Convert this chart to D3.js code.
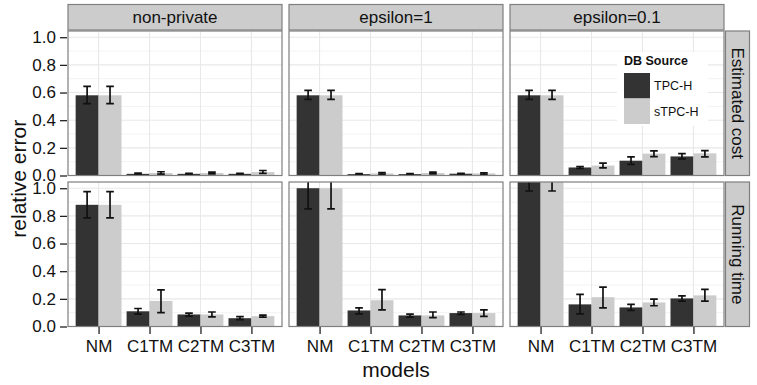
<!DOCTYPE html>
<html>
<head>
<meta charset="utf-8">
<script src="https://cdn.jsdelivr.net/npm/d3@7"></script>
<style>
  body { margin: 0; background: #fff; }
  text { font-family: "Liberation Sans", Arial, Helvetica, sans-serif; fill: #111; }
</style>
</head>
<body>
<div id="app"></div>
<script>
const models = ['NM', 'C1TM', 'C2TM', 'C3TM'];
const settings = ['non-private', 'epsilon=1', 'epsilon=0.1'];
const metrics = ['Estimated cost', 'Running time'];
const sources = ['TPC-H', 'sTPC-H'];
const yTicks = [0, 0.2, 0.4, 0.6, 0.8, 1.0];

// [setting][source][model]
const costMean = [
  [[0.58, 0.012, 0.012, 0.012], [0.58, 0.018, 0.018, 0.025]],
  [[0.58, 0.010, 0.010, 0.013], [0.58, 0.015, 0.018, 0.015]],
  [[0.58, 0.058, 0.107, 0.138], [0.58, 0.072, 0.158, 0.160]]
];
const costLow = [
  [[0.52, 0.008, 0.008, 0.008], [0.52, 0.010, 0.012, 0.015]],
  [[0.55, 0.007, 0.007, 0.010], [0.55, 0.010, 0.012, 0.010]],
  [[0.55, 0.052, 0.080, 0.120], [0.55, 0.055, 0.136, 0.135]]
];
const costHigh = [
  [[0.645, 0.017, 0.016, 0.016], [0.645, 0.027, 0.024, 0.036]],
  [[0.615, 0.013, 0.013, 0.016], [0.615, 0.021, 0.025, 0.020]],
  [[0.615, 0.065, 0.135, 0.158], [0.615, 0.090, 0.178, 0.180]]
];
const timeMean = [
  [[0.88, 0.110, 0.087, 0.060], [0.88, 0.185, 0.087, 0.075]],
  [[1.00, 0.116, 0.080, 0.097], [1.00, 0.190, 0.080, 0.097]],
  [[1.12, 0.160, 0.138, 0.203], [1.12, 0.212, 0.174, 0.225]]
];
const timeLow = [
  [[0.785, 0.090, 0.075, 0.050], [0.785, 0.100, 0.070, 0.068]],
  [[0.85, 0.092, 0.068, 0.088], [0.85, 0.120, 0.064, 0.073]],
  [[0.98, 0.092, 0.116, 0.184], [0.98, 0.135, 0.150, 0.184]]
];
const timeHigh = [
  [[0.975, 0.130, 0.097, 0.072], [0.975, 0.265, 0.105, 0.082]],
  [[1.15, 0.135, 0.090, 0.105], [1.15, 0.266, 0.105, 0.120]],
  [[1.26, 0.232, 0.160, 0.222], [1.26, 0.285, 0.198, 0.268]]
];

const WIDTH = 757, HEIGHT = 385;
const fills = ['#333333', '#cccccc'];

const svg = d3.select('#app').append('svg')
  .attr('width', WIDTH)
  .attr('height', HEIGHT);

const panelLeft = 68, panelW = 214, colGap = 7;
const rowTop = [31, 182], panelH = 144.5;

const fill = d3.scaleOrdinal().domain(sources).range(fills);

const rows = [
  { mean: costMean, low: costLow, high: costHigh },
  { mean: timeMean, low: timeLow, high: timeHigh }
];

rows.forEach((row, r) => {
  const y = d3.scaleLinear().domain([0, 1.045]).range([rowTop[r] + panelH, rowTop[r]]);

  settings.forEach((setting, c) => {
    const x0 = panelLeft + c * (panelW + colGap);
    const x = d3.scalePoint().domain(models).range([x0, x0 + panelW]).padding(0.6);
    const step = x.step();
    const g = svg.append('g');

    const clipId = `clip-${r}-${c}`;
    svg.append('clipPath').attr('id', clipId)
      .append('rect')
        .attr('x', x0).attr('y', rowTop[r])
        .attr('width', panelW).attr('height', panelH);

    g.append('rect')
      .attr('x', x0).attr('y', rowTop[r])
      .attr('width', panelW).attr('height', panelH)
      .attr('fill', '#fff');

    // minor grid
    g.selectAll('.minor')
      .data([0.1, 0.3, 0.5, 0.7, 0.9])
      .enter().append('line')
        .attr('x1', x0).attr('x2', x0 + panelW)
        .attr('y1', d => y(d)).attr('y2', d => y(d))
        .attr('stroke', '#f3f3f3').attr('stroke-width', 1);
    // major grid
    g.selectAll('.majorY')
      .data(yTicks)
      .enter().append('line')
        .attr('x1', x0).attr('x2', x0 + panelW)
        .attr('y1', d => y(d)).attr('y2', d => y(d))
        .attr('stroke', '#e8e8e8').attr('stroke-width', 1.1);
    g.selectAll('.majorX')
      .data(models)
      .enter().append('line')
        .attr('x1', d => x(d)).attr('x2', d => x(d))
        .attr('y1', rowTop[r]).attr('y2', rowTop[r] + panelH)
        .attr('stroke', '#e8e8e8').attr('stroke-width', 1.1);

    const bars = [];
    sources.forEach((s, si) => {
      models.forEach((m, mi) => {
        bars.push({
          source: s, model: m, si,
          v: row.mean[c][si][mi], lo: row.low[c][si][mi], hi: row.high[c][si][mi]
        });
      });
    });

    const marks = g.append('g').attr('clip-path', `url(#${clipId})`);
    const bw = step * 0.45;
    const cx = d => x(d.model) + (d.si === 0 ? -bw / 2 : bw / 2);

    marks.selectAll('.bar')
      .data(bars)
      .enter().append('rect')
        .attr('x', d => cx(d) - bw / 2)
        .attr('width', bw)
        .attr('y', d => y(d.v))
        .attr('height', d => y(0) - y(d.v))
        .attr('fill', d => fill(d.source));

    const cap = step * 0.075;
    const eb = marks.selectAll('.err').data(bars).enter().append('g')
      .attr('stroke', '#111').attr('stroke-width', 1.7);
    eb.append('line')
      .attr('x1', cx).attr('x2', cx)
      .attr('y1', d => y(d.lo)).attr('y2', d => y(d.hi));
    eb.append('line')
      .attr('x1', d => cx(d) - cap).attr('x2', d => cx(d) + cap)
      .attr('y1', d => y(d.lo)).attr('y2', d => y(d.lo));
    eb.append('line')
      .attr('x1', d => cx(d) - cap).attr('x2', d => cx(d) + cap)
      .attr('y1', d => y(d.hi)).attr('y2', d => y(d.hi));

    g.append('rect')
      .attr('x', x0).attr('y', rowTop[r])
      .attr('width', panelW).attr('height', panelH)
      .attr('fill', 'none').attr('stroke', '#7f7f7f').attr('stroke-width', 1.2);

    // top strips
    if (r === 0) {
      g.append('rect')
        .attr('x', x0).attr('y', 4.5)
        .attr('width', panelW).attr('height', 25.5)
        .attr('fill', '#cccccc').attr('stroke', '#7f7f7f').attr('stroke-width', 1.2);
      g.append('text')
        .attr('x', x0 + panelW / 2).attr('y', 17.5)
        .attr('dy', '0.35em')
        .attr('text-anchor', 'middle')
        .style('font-size', '17px')
        .text(setting);
    }

    // left axis
    if (c === 0) {
      const axis = d3.axisLeft(y).tickValues(yTicks).tickSize(7).tickPadding(4)
        .tickFormat(d3.format('.1f'));
      const ag = svg.append('g').attr('transform', `translate(${x0 - 1},0)`).call(axis);
      ag.select('.domain').remove();
      ag.selectAll('line').attr('stroke', '#222').attr('stroke-width', 1.3);
      ag.selectAll('text').style('font-size', '17px').attr('fill', '#111');
    }

    // bottom axis
    if (r === 1) {
      const axis = d3.axisBottom(x).tickSize(7).tickPadding(6);
      const ag = svg.append('g').attr('transform', `translate(0,${rowTop[r] + panelH + 0.5})`).call(axis);
      ag.select('.domain').remove();
      ag.selectAll('line').attr('stroke', '#222').attr('stroke-width', 1.3);
      ag.selectAll('text').style('font-size', '17px').attr('fill', '#111');
    }
  });

  // right strip
  const sx = panelLeft + 3 * panelW + 2 * colGap + 1.5;
  svg.append('rect')
    .attr('x', sx).attr('y', rowTop[r])
    .attr('width', 24).attr('height', panelH)
    .attr('fill', '#cccccc').attr('stroke', '#7f7f7f').attr('stroke-width', 1.2);
  svg.append('text')
    .attr('transform', `translate(${sx + 12},${rowTop[r] + panelH / 2}) rotate(90)`)
    .attr('text-anchor', 'middle')
    .attr('dy', '0.35em')
    .style('font-size', '17px')
    .text(metrics[r]);
});

// axis titles
svg.append('text')
  .attr('transform', `translate(19,${(rowTop[0] + rowTop[1] + panelH) / 2}) rotate(-90)`)
  .attr('text-anchor', 'middle')
  .attr('dy', '0.35em')
  .style('font-size', '21px')
  .text('relative error');

svg.append('text')
  .attr('x', panelLeft + (3 * panelW + 2 * colGap) / 2)
  .attr('y', 377)
  .attr('text-anchor', 'middle')
  .style('font-size', '21px')
  .text('models');

// legend inside epsilon=0.1 / Estimated cost panel
const leg = svg.append('g').attr('transform', 'translate(617,52)');
leg.append('rect')
  .attr('width', 91).attr('height', 74)
  .attr('fill', '#fff');
leg.append('text')
  .attr('x', 7).attr('y', 13)
  .style('font-size', '12.5px')
  .style('font-weight', 'bold')
  .text('DB Source');
leg.selectAll('.key')
  .data(sources)
  .enter().append('rect')
    .attr('x', 7).attr('y', (d, i) => 21 + i * 25.5)
    .attr('width', 26).attr('height', 25.5)
    .attr('fill', d => fill(d));
leg.selectAll('.lab')
  .data(sources)
  .enter().append('text')
    .attr('x', 37).attr('y', (d, i) => 34 + i * 25.5)
    .attr('dy', '0.35em')
    .style('font-size', '12.5px')
    .text(d => d);
</script>
</body>
</html>
